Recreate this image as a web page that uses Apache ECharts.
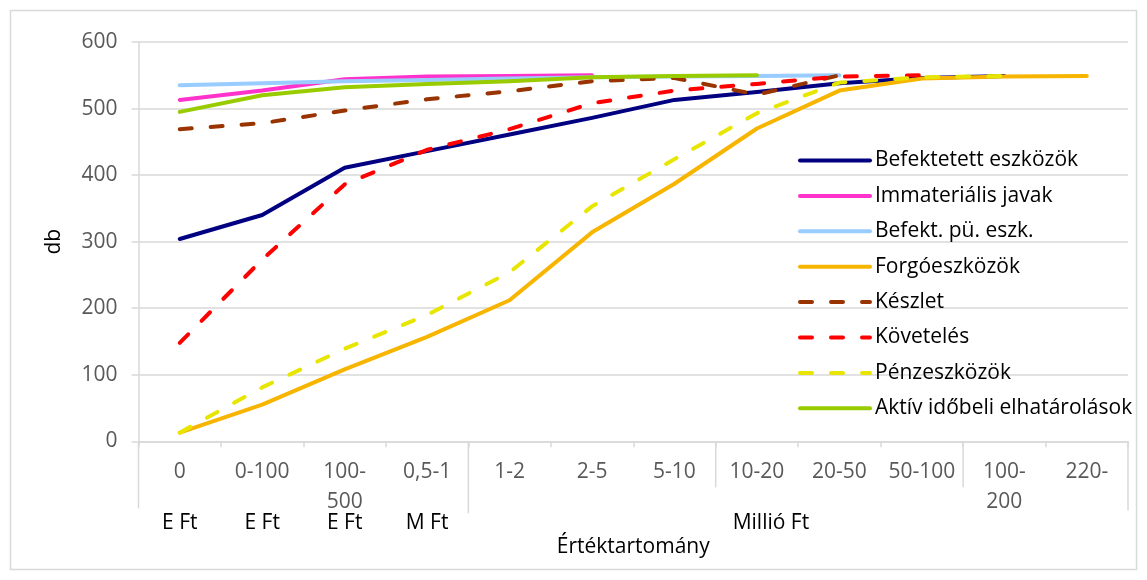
<!DOCTYPE html>
<html><head><meta charset="utf-8">
<script src="https://cdn.jsdelivr.net/npm/echarts@6/dist/echarts.min.js"></script>
<style>html,body{margin:0;padding:0;background:#fff}#c{width:1147px;height:580px}</style>
</head><body><div id="c"></div>
<script>
// ---- data ----
const categories = ['0','0-100','100-500','0,5-1','1-2','2-5','5-10','10-20','20-50','50-100','100-200','220-'];
const categoryLabels = ['0','0-100','100-\n500','0,5-1','1-2','2-5','5-10','10-20','20-50','50-100','100-\n200','220-'];
const yTicks = [0,100,200,300,400,500,600];

const befektetettEszkozok = [304, 340, 411, 436, 461, 486, 513, 525, 538, 546, 549, null];
const immaterialisJavak   = [513, 527, 544, 548, 549, 550, null, null, null, null, null, null];
const befektPuEszk        = [535, 538, 541, 543, 545, 547, 548, 549, 550, null, null, null];
const forgoeszkozok       = [13, 55, 108, 157, 212, 314, 387, 470, 527, 545, 548, 549];
const keszlet             = [469, 478, 497, 514, 526, 541, 546, 521, 550, null, null, null];
const koveteles           = [148, 273, 386, 438, 469, 508, 527, 537, 548, 550, null, null];
const penzeszkozok        = [13, 81, 139, 190, 254, 353, 424, 493, 539, 547, 549, null];
const aktivIdobeli        = [495, 520, 532, 537, 541, 547, 549, 550, null, null, null, null];

const seriesNames = ['Befektetett eszközök','Immateriális javak','Befekt. pü. eszk.','Forgóeszközök','Készlet','Követelés','Pénzeszközök','Aktív időbeli elhatárolások'];
const seriesData = [befektetettEszkozok, immaterialisJavak, befektPuEszk, forgoeszkozok, keszlet, koveteles, penzeszkozok, aktivIdobeli];
const seriesColors = ['#000080','#FF33CC','#99CCFF','#F7B500','#993300','#FF0000','#E8E600','#99CC00'];
const seriesDashed = [false,false,false,false,true,true,true,false];

// unit group labels (category index where label sits) and group separators (category boundary index)
const unitLabels = [['E Ft',0],['E Ft',1],['E Ft',2],['M Ft',3],['Millió Ft',7]];
const separators = [[0,67],[4,72],[7,46],[10,46],[12,69]];

const FONT = '"Open Sans", sans-serif';
const FS = 21;
const chart = echarts.init(document.getElementById('c'));

chart.setOption({
  animation:false,
  backgroundColor:'#fff',
  textStyle:{fontFamily:FONT},
  grid:{left:138.5, right:19, top:42, bottom:138.7, containLabel:false},
  legend:{
    orient:'vertical', left:793, top:145,
    itemWidth:70, itemHeight:14, itemGap:14.4,
    textStyle:{fontFamily:FONT, fontSize:FS, color:'#000', lineHeight:20},
    lineStyle:{width:4},
    itemStyle:{opacity:0},
    data:seriesNames
  },
  xAxis:{
    type:'category', data:categories, boundaryGap:true,
    name:'Értéktartomány', nameLocation:'middle', nameGap:95,
    nameTextStyle:{fontFamily:FONT, fontSize:FS, color:'#000'},
    axisLine:{lineStyle:{color:'#D9D9D9', width:1.5}},
    axisTick:{show:true, interval:0, length:6, lineStyle:{color:'#D9D9D9', width:1.5}},
    axisLabel:{interval:0, margin:16, fontFamily:FONT, fontSize:FS, color:'#595959', lineHeight:30,
      formatter:(v,i)=>categoryLabels[i]},
    splitLine:{show:false}
  },
  yAxis:{
    type:'value', min:yTicks[0], max:yTicks[yTicks.length-1], interval:100,
    name:'db', nameLocation:'middle', nameGap:74,
    nameTextStyle:{fontFamily:FONT, fontSize:FS, color:'#000'},
    axisLine:{show:true, lineStyle:{color:'#D9D9D9', width:1.5}},
    axisTick:{show:true, length:7, lineStyle:{color:'#D9D9D9', width:1.5}},
    axisLabel:{margin:21, fontFamily:FONT, fontSize:FS, color:'#595959'},
    splitLine:{lineStyle:{color:'#D9D9D9', width:1.5}}
  },
  series:seriesNames.map((n,i)=>({
    name:n, type:'line', data:seriesData[i], symbol:'none', showSymbol:false,
    connectNulls:false,
    itemStyle:{color:seriesColors[i]},
    lineStyle:{color:seriesColors[i], width:4, type:seriesDashed[i]?[12,19]:'solid', cap:'round', join:'round'}
  }))
});

// graphics: multi-level category labels, separators and chart border
const y0 = chart.convertToPixel({yAxisIndex:0}, 0);
const c0 = chart.convertToPixel({xAxisIndex:0}, 0);
const c1 = chart.convertToPixel({xAxisIndex:0}, 1);
const step = c1 - c0;
const graphics = [];
graphics.push({type:'rect', shape:{x:10.5,y:10.5,width:1126,height:559}, style:{fill:null, stroke:'#D9D9D9', lineWidth:1.5}, silent:true, z:-1});
separators.forEach(([b,len])=>{
  const x = c0 - step/2 + b*step;
  graphics.push({type:'line', shape:{x1:x,y1:y0,x2:x,y2:y0+len}, style:{stroke:'#D9D9D9', lineWidth:1.5}, silent:true});
});
unitLabels.forEach(([t,i])=>{
  const x = chart.convertToPixel({xAxisIndex:0}, i) + (t==='Millió Ft'?14:0);
  graphics.push({type:'text', x:x, y:y0+82, style:{text:t, font:FS+'px '+FONT, fill:'#000', align:'center', verticalAlign:'middle'}, silent:true});
});
chart.setOption({graphic:graphics});
</script>
</body></html>
